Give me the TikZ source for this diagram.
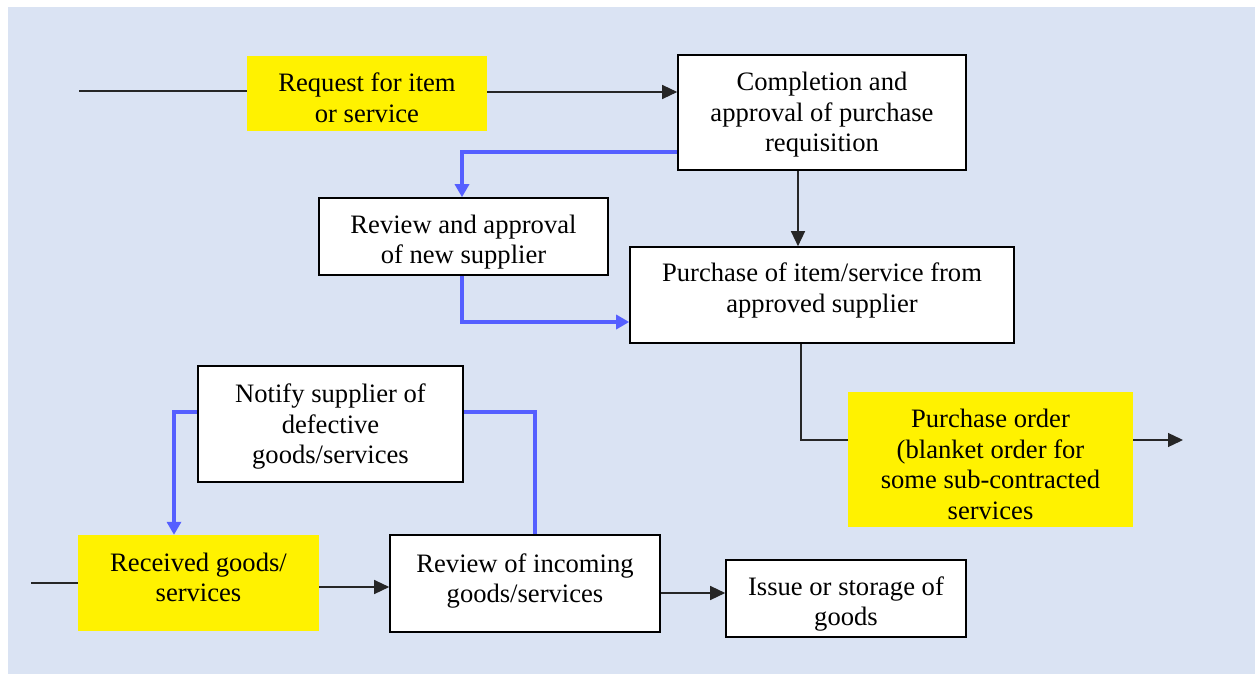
\documentclass[tikz,border=0pt]{standalone}
\usepackage{fontspec}
\setmainfont{Liberation Serif}
\usetikzlibrary{arrows.meta,calc}
\definecolor{bgblue}{HTML}{DAE3F3}
\definecolor{flowblue}{RGB}{85,95,255}
\tikzset{
  base/.style={inner sep=0pt, align=center, font=\fontsize{26.6}{30.5}\selectfont},
  wbox/.style={base, draw=black, line width=1.6pt, fill=white},
  ybox/.style={base, fill=yellow},
  blk/.style={draw=black!85, line width=1.3pt},
  blkarr/.style={blk, -{Triangle[length=15pt,width=14pt]}},
  bl/.style={draw=flowblue, line width=3.6pt},
  blarr/.style={bl, -{Triangle[length=13pt,width=14pt]}},
}
\begin{document}
\begin{tikzpicture}[x=1pt,y=-1pt]
\useasboundingbox (0,0) rectangle (1255,674);
\fill[bgblue] (8,7) rectangle (1255,674);

% nodes
\node[ybox, minimum width=240pt, minimum height=75pt] (req) at (367,93.5) {\\[-3.5pt]Request for item\\or service};
\node[wbox, minimum width=288pt, minimum height=115pt] (comp) at (822,112.5) {\\[-7.5pt]Completion and\\approval of purchase\\requisition};
\node[wbox, minimum width=289pt, minimum height=77pt] (rev) at (463.5,236.5) {\\[-0.5pt]Review and approval\\of new supplier};
\node[wbox, minimum width=384pt, minimum height=96pt] (purch) at (822,295) {Purchase of item/service from\\approved supplier\\[-15.5pt]};
\begin{scope}
\clip (848,392) rectangle (1133,527);
\node[ybox, minimum width=285pt, minimum height=135pt] (po) at (990.5,459.5) {\\[-2pt]Purchase order\\(blanket order for\\some sub-contracted\\services};
\end{scope}
\node[wbox, minimum width=265pt, minimum height=116pt] (notify) at (330.5,424) {\\[-6.5pt]Notify supplier of\\defective\\goods/services};
\node[ybox, minimum width=241pt, minimum height=96pt] (recv) at (198.5,583) {Received goods/\\services\\[-19.5pt]};
\node[wbox, minimum width=270pt, minimum height=97pt] (revin) at (525,583.5) {Review of incoming\\goods/services\\[-19.5pt]};
\node[wbox, minimum width=240pt, minimum height=77pt] (issue) at (846,598.5) {\\[-0.5pt]Issue or storage of\\goods};

\coordinate (in1) at (79,91);
\coordinate (in2) at (31,583);
\coordinate (out1) at (1183,440);

% black connectors
\draw[blk] (in1) -- (in1 -| req.west);
\draw[blkarr] ([yshift=1.5pt]req.east) -- ([yshift=1.5pt]req.east -| comp.west);
\draw[blkarr] ([xshift=-24pt]comp.south) -- ([xshift=-24pt]comp.south |- purch.north);
\draw[blk] ([xshift=-21pt]purch.south) |- ([yshift=19.5pt]po.west);
\draw[blkarr] ([yshift=19.5pt]po.east) -- (out1);
\draw[blk] (in2) -- (in2 -| recv.west);
\draw[blkarr] ([yshift=-4pt]recv.east) -- ([yshift=-4pt]recv.east -| revin.west);
\draw[blkarr] ([yshift=-9.5pt]revin.east) -- ([yshift=-9.5pt]revin.east -| issue.west);

% blue connectors
\draw[blarr] ([yshift=-39.5pt]comp.west) -| ([xshift=-1.5pt]rev.north);
\draw[blarr] ([xshift=-1.5pt]rev.south) |- ([yshift=-27pt]purch.west);
\draw[blarr] ([yshift=12pt]notify.west) -| ([xshift=-24.5pt]recv.north);
\draw[bl] ([xshift=10pt]revin.north) |- ([yshift=12pt]notify.east);
\end{tikzpicture}
\end{document}
